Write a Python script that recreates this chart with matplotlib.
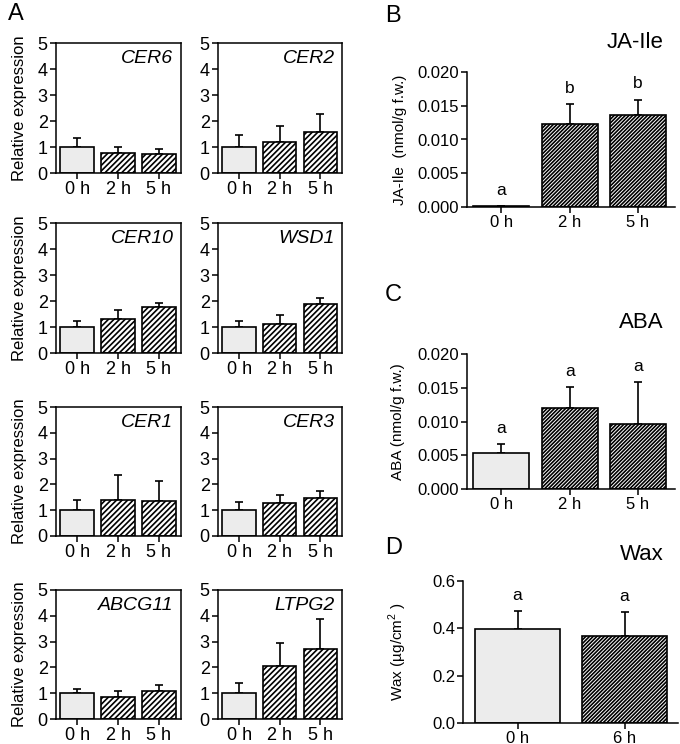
import numpy as np
import matplotlib
matplotlib.use("Agg")
import matplotlib.pyplot as plt

plt.rcParams['font.family'] = ['Liberation Sans', 'DejaVu Sans']
plt.rcParams['mathtext.fontset'] = 'custom'
plt.rcParams['mathtext.rm'] = 'Liberation Sans'
plt.rcParams['hatch.linewidth'] = 1.2

# Panel A: relative expression (mean, upper SD) at 0 h, 2 h, 5 h
times_a = ["0 h", "2 h", "5 h"]
genes = ["CER6", "CER2", "CER10", "WSD1", "CER1", "CER3", "ABCG11", "LTPG2"]
expr_mean = {
    "CER6":   [1.00, 0.78, 0.75],
    "CER2":   [1.00, 1.21, 1.56],
    "CER10":  [1.00, 1.31, 1.76],
    "WSD1":   [1.00, 1.10, 1.90],
    "CER1":   [1.00, 1.39, 1.37],
    "CER3":   [1.00, 1.26, 1.48],
    "ABCG11": [1.00, 0.84, 1.08],
    "LTPG2":  [1.00, 2.04, 2.71],
}
expr_err = {
    "CER6":   [0.35, 0.23, 0.16],
    "CER2":   [0.45, 0.58, 0.72],
    "CER10":  [0.25, 0.33, 0.16],
    "WSD1":   [0.23, 0.37, 0.23],
    "CER1":   [0.41, 0.96, 0.75],
    "CER3":   [0.32, 0.34, 0.27],
    "ABCG11": [0.16, 0.25, 0.22],
    "LTPG2":  [0.41, 0.92, 1.16],
}

# Panel B: JA-Ile
times_b = ["0 h", "2 h", "5 h"]
ja_mean = [0.0001, 0.0123, 0.0136]
ja_err = [0.0, 0.0029, 0.0023]
ja_letters = ["a", "b", "b"]

# Panel C: ABA
aba_mean = [0.0054, 0.0120, 0.0097]
aba_err = [0.0012, 0.0031, 0.0061]
aba_letters = ["a", "a", "a"]

# Panel D: wax
times_d = ["0 h", "6 h"]
wax_mean = [0.397, 0.366]
wax_err = [0.076, 0.102]
wax_letters = ["a", "a"]

W, H = 680, 744
fig = plt.figure(figsize=(W / 100, H / 100), dpi=100)


def add_ax(left, top, right, bottom):
    return fig.add_axes([left / W, 1 - bottom / H, (right - left) / W, (bottom - top) / H])


def bars(ax, means, errs, labels, hatch, capsize, width=0.82):
    x = np.arange(len(means))
    colors = ["#ececec"] + ["white"] * (len(means) - 1)
    hatches = [""] + [hatch] * (len(means) - 1)
    ax.errorbar(x, means, yerr=[np.zeros(len(errs)), errs], fmt='none', ecolor='black',
                elinewidth=1.2, capsize=capsize, capthick=1.2, zorder=1)
    for xi, m, c, h in zip(x, means, colors, hatches):
        ax.bar(xi, m, width=width, color=c, edgecolor='black', linewidth=1.2, hatch=h, zorder=2)
    ax.set_xticks(x)
    ax.set_xticklabels(labels)
    ax.tick_params(direction='out', length=4, width=1.1, colors='black')
    for s in ax.spines.values():
        s.set_linewidth(1.1)
    return x


# ---- Panel A ----
rows = [(43, 173), (223, 353), (407, 536), (590, 719)]
cols = [(56, 181), (218, 342)]
for i, g in enumerate(genes):
    r, c = divmod(i, 2)
    top, bottom = rows[r]
    left, right = cols[c]
    ax = add_ax(left, top, right, bottom)
    bars(ax, expr_mean[g], expr_err[g], times_a, '//////', 3)
    ax.set_ylim(0, 5)
    ax.set_xlim(-0.52, 2.54)
    ax.set_yticks(range(6))
    ax.tick_params(labelsize=13, pad=2)
    ax.text(0.94, 0.88, g, transform=ax.transAxes, ha='right', va='center',
            fontsize=14, style='italic')
    if c == 0:
        ax.set_ylabel("Relative expression", fontsize=12)
        ax.yaxis.set_label_coords(-0.23, 0.5)

fig.text(8 / W, 1 - 14 / H, "A", fontsize=17, ha='left', va='center')


def side_panel(box, means, errs, labels, letters, ylim, yticks, fmt, ylabel, title,
               title_y, letter, letter_y, xlim):
    ax = add_ax(*box)
    x = bars(ax, means, errs, labels, '/' * 9, 3, width=0.82 if len(means) == 3 else 0.8)
    ax.spines['top'].set_visible(False)
    ax.spines['right'].set_visible(False)
    ax.set_ylim(*ylim)
    ax.set_xlim(*xlim)
    ax.set_yticks(yticks)
    ax.set_yticklabels([fmt.format(v) for v in yticks])
    ax.tick_params(labelsize=12, pad=1.5)
    ax.set_ylabel(ylabel, fontsize=11)
    for xi, m, e, l in zip(x, means, errs, letters):
        ax.annotate(l, (xi, m + e), xytext=(0, 6), textcoords='offset points',
                    ha='center', va='bottom', fontsize=12.5)
    fig.text(664 / W, 1 - title_y / H, title, fontsize=16, ha='right', va='center')
    fig.text(385 / W, 1 - letter_y / H, letter, fontsize=17, ha='left', va='center')
    return ax


axb = side_panel((467, 72, 675, 207), ja_mean, ja_err, times_b, ja_letters,
                 (0, 0.020), [0, 0.005, 0.010, 0.015, 0.020], "{:.3f}",
                 "JA-Ile  (nmol/g f.w.)", "JA-Ile", 43, "B", 16, (-0.5, 2.54))
axb.yaxis.set_label_coords(-0.29, 0.5)

axc = side_panel((467, 354, 675, 489), aba_mean, aba_err, times_b, aba_letters,
                 (0, 0.020), [0, 0.005, 0.010, 0.015, 0.020], "{:.3f}",
                 "ABA (nmol/g f.w.)", "ABA", 322, "C", 295, (-0.5, 2.54))
axc.yaxis.set_label_coords(-0.3, 0.5)

axd = side_panel((463, 581, 678, 723), wax_mean, wax_err, times_d, wax_letters,
                 (0, 0.6), [0, 0.2, 0.4, 0.6], "{:.1f}",
                 "Wax (µg/cm$^{2}$ )", "Wax", 555, "D", 548, (-0.51, 1.5))
axd.yaxis.set_label_coords(-0.25, 0.5)

fig.savefig("out.png", dpi=100)
